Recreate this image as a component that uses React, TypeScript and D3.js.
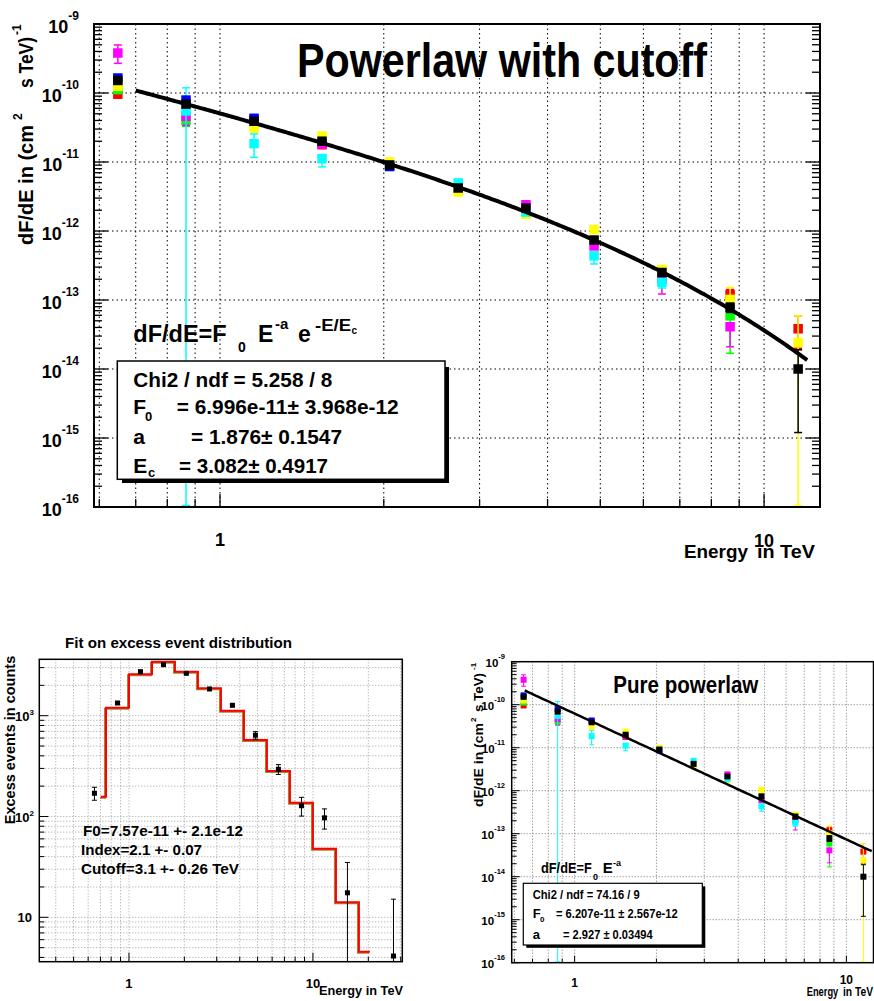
import React from 'react';
import * as d3 from 'd3';

const FONT = "'Liberation Sans', Arial, Helvetica, sans-serif";

// ---------------- spectral points (E in TeV, dF/dE) ----------------
const energies = [0.649, 0.866, 1.155, 1.54, 2.05, 2.74, 3.65, 4.87, 6.49, 8.66, 11.55];
const N = null;

const blackFlux = [1.52e-10, 6.9e-11, 3.9e-11, 2.0e-11, 9.06e-12, 4.2e-12, 2.15e-12, 7.4e-13, 2.5e-13, 7.8e-14, 1.0e-14];
const blackLo = [1.45e-10, 6.5e-11, 3.7e-11, 1.9e-11, 8.6e-12, 3.95e-12, 2.0e-12, 6.8e-13, 2.25e-13, 6.6e-14, 1.2e-15];
const blackHi = [1.6e-10, 7.3e-11, 4.1e-11, 2.1e-11, 9.5e-12, 4.45e-12, 2.3e-12, 8.0e-13, 2.75e-13, 9.0e-14, 1.9e-14];

const redFlux = [9.6e-11, N, N, 1.78e-11, N, N, N, N, N, 1.2e-13, 3.83e-14];
const redLo = [N, N, N, N, N, N, N, N, N, N, 2.0e-14];
const redHi = [N, N, N, N, N, N, N, N, N, 1.42e-13, 5.9e-14];

const greenFlux = [1.12e-10, 4.0e-11, N, N, N, N, N, N, 2.6e-13, 5.9e-14, N];
const greenLo = [N, 3.3e-11, N, N, N, N, N, N, N, 1.69e-14, N];
const greenHi = [N, N, N, N, N, N, N, N, N, N, N];

const yellowFlux = [1.25e-10, N, 3.1e-11, 2.38e-11, 1.0e-11, 3.67e-12, 1.74e-12, 1.05e-12, 2.77e-13, 1.02e-13, 2.42e-14];
const yellowLo = [N, N, N, N, N, N, N, N, N, N, 1.05e-16];
const yellowHi = [N, N, N, N, N, N, N, N, N, 1.52e-13, 5.9e-14];

const magentaFlux = [3.8e-10, 4.6e-11, 4.1e-11, 1.82e-11, N, N, 2.4e-12, 6.07e-13, 2.0e-13, 4.1e-14, N];
const magentaLo = [2.69e-10, 3.39e-11, N, N, N, N, N, N, 1.22e-13, 2.1e-14, N];
const magentaHi = [4.97e-10, N, N, N, N, N, N, N, N, N, N];

const cyanFlux = [N, 5.5e-11, 1.85e-11, 1.12e-11, 8.7e-12, 4.97e-12, 1.88e-12, 4.36e-13, 1.8e-13, N, N];
const cyanLo = [N, 1.05e-16, 1.17e-11, 8.5e-12, N, N, N, 3.33e-13, 1.49e-13, N, N];
const cyanHi = [N, 1.19e-10, 2.55e-11, N, N, N, N, N, N, N, N];

const blueFlux = [1.65e-10, 7.9e-11, 4.3e-11, N, 8.6e-12, N, N, N, N, N, N];
const blueLo = [N, N, N, N, N, N, N, N, N, N, N];
const blueHi = [N, N, N, N, N, N, N, N, N, N, N];

const spectra = [
  { color: '#ff0000', flux: redFlux, lo: redLo, hi: redHi },
  { color: '#00ff00', flux: greenFlux, lo: greenLo, hi: greenHi },
  { color: '#ffff00', flux: yellowFlux, lo: yellowLo, hi: yellowHi },
  { color: '#ff00ff', flux: magentaFlux, lo: magentaLo, hi: magentaHi },
  { color: '#00ffff', flux: cyanFlux, lo: cyanLo, hi: cyanHi },
  { color: '#0000ff', flux: blueFlux, lo: blueLo, hi: blueHi },
  { color: '#000000', flux: blackFlux, lo: blackLo, hi: blackHi },
];

// fit parameters
const cutoffF0 = 6.996e-11, cutoffIndex = 1.876, cutoffEc = 3.082;
const cutoffRange = [0.7, 12.0];
const plF0 = 6.207e-11, plIndex = 2.927;
const plRange = [0.655, 12.4];

// ---------------- excess counts ----------------
const countEnergies = [0.649, 0.866, 1.155, 1.54, 2.05, 2.74, 3.65, 4.87, 6.49, 8.66, 11.55, 15.4, 27.4];
const excessCounts = [170, 1337, 2736, 3206, 2633, 1842, 1268, 640, 294, 128, 97, 17.5, 4.13];
const excessErr = [25, 37, 52, 57, 51, 43, 36, 55, 33, 27, 22, 17.5, 11];
const fitEdges = [0.704, 0.75, 1.0, 1.334, 1.778, 2.371, 3.162, 4.217, 5.623, 7.499, 10.0, 13.34, 17.78, 20.4];
const fitCounts = [157, 1200, 2574, 3436, 2736, 1870, 1121, 574, 282, 137, 48, 14.1, 4.56];

// axis tick values
const specXTicks = [0.6, 0.7, 0.8, 0.9, 1, 2, 3, 4, 5, 6, 7, 8, 9, 10];
const specXGrid = [0.6, 0.7, 0.8, 0.9, 1, 2, 3, 4, 5, 6, 7, 8, 9, 10];
const specDecades = [-16, -15, -14, -13, -12, -11, -10, -9];
const countXTicks = [0.4, 0.5, 0.6, 0.7, 0.8, 0.9, 1, 2, 3, 4, 5, 6, 7, 8, 9, 10, 20, 30];
const countYTicks = [4, 5, 6, 7, 8, 9, 10, 20, 30, 40, 50, 60, 70, 80, 90, 100, 200, 300, 400, 500, 600, 700, 800, 900, 1000, 2000, 3000];

function decadeMinors(decs: number[]) {
  const out: number[] = [];
  for (let i = 0; i < decs.length - 1; i++) for (let m = 2; m <= 9; m++) out.push(m * Math.pow(10, decs[i]));
  return out;
}

function SpectrumPoints({ x, y, size, cap, lw }: any) {
  return (
    <g>
      {spectra.map((s, si) => (
        <g key={si}>
          {energies.map((e, i) => {
            const f = s.flux[i];
            if (f == null) return null;
            const lo = s.lo[i] ?? f;
            const hi = s.hi[i] ?? f;
            const cx = x(e), cy = y(f), yl = y(lo), yh = y(hi);
            return (
              <g key={i}>
                {(s.lo[i] != null || s.hi[i] != null) && (
                  <line x1={cx} x2={cx} y1={yl} y2={yh} stroke={s.color} strokeWidth={lw} />
                )}
                {s.lo[i] != null && <line x1={cx - cap} x2={cx + cap} y1={yl} y2={yl} stroke={s.color} strokeWidth={lw} />}
                {s.hi[i] != null && <line x1={cx - cap} x2={cx + cap} y1={yh} y2={yh} stroke={s.color} strokeWidth={lw} />}
                <rect x={cx - size / 2} y={cy - size / 2} width={size} height={size} fill={s.color} />
              </g>
            );
          })}
        </g>
      ))}
    </g>
  );
}

function SpecGridTicks({ x, y, gridColor, dash, majL, minL, botMaj, botMin, rightTicks, lw }: any) {
  const [xl, xr] = x.range();
  const [yb, yt] = y.range();
  const majors = specDecades.map((k) => Math.pow(10, k));
  const minors = decadeMinors(specDecades);
  return (
    <g>
      {majors.slice(1, -1).map((v, i) => (
        <line key={'gh' + i} x1={xl} x2={xr} y1={y(v)} y2={y(v)} stroke={gridColor} strokeWidth={1} strokeDasharray={dash} />
      ))}
      {specXGrid.map((v, i) => (
        <line key={'gv' + i} x1={x(v)} x2={x(v)} y1={yt} y2={yb} stroke={gridColor} strokeWidth={1} strokeDasharray={dash} />
      ))}
      {majors.map((v, i) => (
        <line key={'lm' + i} x1={xl} x2={xl + majL} y1={y(v)} y2={y(v)} stroke="#000" strokeWidth={lw} />
      ))}
      {minors.map((v, i) => (
        <line key={'ln' + i} x1={xl} x2={xl + minL} y1={y(v)} y2={y(v)} stroke="#000" strokeWidth={lw} />
      ))}
      {rightTicks && majors.map((v, i) => (
        <line key={'rm' + i} x1={xr} x2={xr - majL} y1={y(v)} y2={y(v)} stroke="#000" strokeWidth={lw} />
      ))}
      {rightTicks && minors.map((v, i) => (
        <line key={'rn' + i} x1={xr} x2={xr - minL} y1={y(v)} y2={y(v)} stroke="#000" strokeWidth={lw} />
      ))}
      {specXTicks.map((v, i) => (
        <line key={'bt' + i} x1={x(v)} x2={x(v)} y1={yb} y2={yb - (v === 1 || v === 10 ? botMaj : botMin)} stroke="#000" strokeWidth={lw} />
      ))}
    </g>
  );
}

function TopPanel() {
  const x = d3.scaleLog().domain([0.5867, 12.67]).range([94, 820]);
  const y = d3.scaleLog().domain([1e-16, 1e-9]).range([507, 24]);
  const curvePts = d3.range(0, 301).map((i) => {
    const e = cutoffRange[0] * Math.pow(cutoffRange[1] / cutoffRange[0], i / 300);
    return [e, cutoffF0 * Math.pow(e, -cutoffIndex) * Math.exp(-e / cutoffEc)];
  });
  const line = d3.line<number[]>().x((d) => x(d[0])).y((d) => y(d[1]));
  return (
    <g>
      <defs>
        <clipPath id="clipTop"><rect x={94} y={24} width={726} height={483} /></clipPath>
      </defs>
      <SpecGridTicks x={x} y={y} gridColor="#000" dash="1.5 3" majL={14} minL={8} botMaj={13} botMin={8} rightTicks lw={1.3} />
      <g clipPath="url(#clipTop)">
        <SpectrumPoints x={x} y={y} size={9.5} cap={4} lw={1.5} />
        <path d={line(curvePts as any) || ''} fill="none" stroke="#000" strokeWidth={4} />
      </g>
      <rect x={94} y={24} width={726} height={483} fill="none" stroke="#000" strokeWidth={2} />
      {/* y tick labels */}
      {specDecades.map((k) => (
        <text key={k} x={79} y={y(Math.pow(10, k)) + 8.5} fontSize={18} textAnchor="end">
          10<tspan dy={-12.5} fontSize={12}>{k}</tspan>
        </text>
      ))}
      {/* y title */}
      <g>
        <text transform="translate(33,245) rotate(-90)" fontSize={20} textLength={120} lengthAdjust="spacingAndGlyphs">dF/dE in (cm</text>
        <text transform="translate(22,120) rotate(-90)" fontSize={12}>2</text>
        <text transform="translate(33,88) rotate(-90)" fontSize={20} textLength={51} lengthAdjust="spacingAndGlyphs">s TeV)</text>
        <text transform="translate(21,35) rotate(-90)" fontSize={12}>-1</text>
      </g>
      {/* x labels */}
      <text x={x(1)} y={546} fontSize={18} textAnchor="middle">1</text>
      <text x={x(10)} y={547} fontSize={18} textAnchor="middle">10</text>
      <text x={684} y={558} fontSize={19} textLength={64} lengthAdjust="spacingAndGlyphs">Energy</text>
      <text x={757} y={558} fontSize={19} textLength={58} lengthAdjust="spacingAndGlyphs">in TeV</text>
      {/* title */}
      <text x={297} y={77} fontSize={49} textLength={410} lengthAdjust="spacingAndGlyphs">Powerlaw with cutoff</text>
      {/* formula */}
      <text x={133.3} y={341.7} fontSize={23} textLength={93.4} lengthAdjust="spacingAndGlyphs">dF/dE=F</text>
      <text x={238} y={351.7} fontSize={14}>0</text>
      <text x={258} y={341.7} fontSize={23}>E</text>
      <text x={275} y={329} fontSize={15}>-a</text>
      <text x={298} y={341.7} fontSize={23}>e</text>
      <text x={315} y={331} fontSize={16} textLength={36} lengthAdjust="spacingAndGlyphs">-E/E</text>
      <text x={351.5} y={334} fontSize={10}>c</text>
      {/* stats box */}
      <rect x={122} y={367} width={327} height={116} fill="#000" />
      <rect x={117.3} y={361} width={327.7} height={118.3} fill="#fff" stroke="#000" strokeWidth={1.5} />
      <text x={133.3} y={387.3} fontSize={21} textLength={199} lengthAdjust="spacingAndGlyphs">Chi2 / ndf = 5.258 / 8</text>
      <text x={133.3} y={414} fontSize={21}>F</text>
      <text x={145} y={421} fontSize={13}>0</text>
      <text x={176.7} y={414} fontSize={21} textLength={222} lengthAdjust="spacingAndGlyphs">= 6.996e-11± 3.968e-12</text>
      <text x={133.3} y={444} fontSize={21}>a</text>
      <text x={191} y={444} fontSize={21} textLength={151} lengthAdjust="spacingAndGlyphs">= 1.876± 0.1547</text>
      <text x={133.3} y={472.7} fontSize={21}>E</text>
      <text x={148} y={477} fontSize={13}>c</text>
      <text x={179} y={472.7} fontSize={21} textLength={149} lengthAdjust="spacingAndGlyphs">= 3.082± 0.4917</text>
    </g>
  );
}

function CountsPanel() {
  const x = d3.scaleLog().domain([0.3255, 30.6]).range([39.3, 402.3]);
  const y = d3.scaleLog().domain([3.627, 3627]).range([961.7, 659.3]);
  const [xl, xr] = x.range();
  const [yb, yt] = y.range();
  const stepPts: number[][] = [];
  fitCounts.forEach((c, i) => {
    stepPts.push([fitEdges[i], c]);
    stepPts.push([fitEdges[i + 1], c]);
  });
  const line = d3.line<number[]>().x((d) => x(d[0])).y((d) => y(d[1]));
  const stepD = line(stepPts) || '';
  const majY = [10, 100, 1000];
  return (
    <g>
      <defs>
        <clipPath id="clipBL"><rect x={xl} y={yt} width={xr - xl} height={yb - yt} /></clipPath>
      </defs>
      {countYTicks.map((v, i) => (
        <line key={'gh' + i} x1={xl} x2={xr} y1={y(v)} y2={y(v)} stroke="#888" strokeWidth={0.8} strokeDasharray="1 2" />
      ))}
      {countXTicks.map((v, i) => (
        <line key={'gv' + i} x1={x(v)} x2={x(v)} y1={yt} y2={yb} stroke="#888" strokeWidth={0.8} strokeDasharray="1 2" />
      ))}
      {countYTicks.map((v, i) => (
        <line key={'lt' + i} x1={xl} x2={xl + (majY.includes(v) ? 9 : 5)} y1={y(v)} y2={y(v)} stroke="#000" strokeWidth={1} />
      ))}
      {countXTicks.map((v, i) => (
        <line key={'bt' + i} x1={x(v)} x2={x(v)} y1={yb} y2={yb - (v === 1 || v === 10 ? 9 : 5)} stroke="#000" strokeWidth={1} />
      ))}
      <g clipPath="url(#clipBL)">
        <path d={stepD} fill="none" stroke="#9a8a3a" strokeWidth={2} transform="translate(-1,1)" />
        <path d={stepD} fill="none" stroke="#ff0000" strokeWidth={2} />
        {countEnergies.map((e, i) => {
          const c = excessCounts[i];
          const err = excessErr[i];
          const lo = Math.max(c - err, 1);
          const cx = x(e);
          return (
            <g key={i}>
              <line x1={cx} x2={cx} y1={y(lo)} y2={y(c + err)} stroke="#000" strokeWidth={1} />
              <line x1={cx - 2.5} x2={cx + 2.5} y1={y(c + err)} y2={y(c + err)} stroke="#000" strokeWidth={1} />
              <line x1={cx - 2.5} x2={cx + 2.5} y1={y(lo)} y2={y(lo)} stroke="#000" strokeWidth={1} />
              <rect x={cx - 2.5} y={y(c) - 2.5} width={5} height={5} fill="#000" />
            </g>
          );
        })}
      </g>
      <rect x={xl} y={yt} width={xr - xl} height={yb - yt} fill="none" stroke="#000" strokeWidth={1.5} />
      <text x={34} y={y(1000) + 5} fontSize={13} textAnchor="end">10<tspan dy={-6} fontSize={8}>3</tspan></text>
      <text x={34} y={y(100) + 5} fontSize={13} textAnchor="end">10<tspan dy={-6} fontSize={8}>2</tspan></text>
      <text x={32} y={y(10) + 5} fontSize={13} textAnchor="end">10</text>
      <text x={x(1)} y={988} fontSize={13} textAnchor="middle">1</text>
      <text x={x(10)} y={988} fontSize={13} textAnchor="middle">10</text>
      <text x={319} y={995} fontSize={13} textLength={84} lengthAdjust="spacingAndGlyphs">Energy in TeV</text>
      <text x={65} y={648} fontSize={15} textLength={227} lengthAdjust="spacingAndGlyphs">Fit on excess event distribution</text>
      <text transform="translate(15,740) rotate(-90)" fontSize={14.5} textAnchor="middle">Excess events in counts</text>
      <text x={83} y={836} fontSize={15} textLength={160} lengthAdjust="spacingAndGlyphs">F0=7.57e-11 +- 2.1e-12</text>
      <text x={81} y={855} fontSize={15} textLength={121} lengthAdjust="spacingAndGlyphs">Index=2.1 +- 0.07</text>
      <text x={81} y={874} fontSize={15} textLength={158} lengthAdjust="spacingAndGlyphs">Cutoff=3.1 +- 0.26 TeV</text>
    </g>
  );
}

function PowerlawPanel() {
  const x = d3.scaleLog().domain([0.5867, 12.67]).range([511.7, 874.3]);
  const y = d3.scaleLog().domain([1e-16, 1e-9]).range([962.7, 661.7]);
  const curvePts = d3.range(0, 101).map((i) => {
    const e = plRange[0] * Math.pow(plRange[1] / plRange[0], i / 100);
    return [e, plF0 * Math.pow(e, -plIndex)];
  });
  const line = d3.line<number[]>().x((d) => x(d[0])).y((d) => y(d[1]));
  return (
    <g>
      <defs>
        <clipPath id="clipBR"><rect x={511.7} y={661.7} width={362.6} height={301} /></clipPath>
      </defs>
      <SpecGridTicks x={x} y={y} gridColor="#777" dash="1 2" majL={8} minL={5} botMaj={7} botMin={4} rightTicks={false} lw={1} />
      <g clipPath="url(#clipBR)">
        <SpectrumPoints x={x} y={y} size={6} cap={2.5} lw={1} />
        <path d={line(curvePts as any) || ''} fill="none" stroke="#000" strokeWidth={2.5} />
      </g>
      <rect x={511.7} y={661.7} width={361.8} height={301} fill="none" stroke="#000" strokeWidth={1.5} />
      {specDecades.map((k) => (
        <text key={k} x={505} y={y(Math.pow(10, k)) + 5} fontSize={11.5} textAnchor="end">
          10<tspan dy={-8} fontSize={7.5}>{k}</tspan>
        </text>
      ))}
      <text transform="translate(483,807) rotate(-90)" fontSize={13} textLength={84} lengthAdjust="spacingAndGlyphs">dF/dE in (cm</text>
      <text transform="translate(476,722) rotate(-90)" fontSize={8}>2</text>
      <text transform="translate(483,712) rotate(-90)" fontSize={13} textLength={39} lengthAdjust="spacingAndGlyphs">s TeV)</text>
      <text transform="translate(476,670) rotate(-90)" fontSize={8}>-1</text>
      <text x={x(1)} y={987} fontSize={12} textAnchor="middle">1</text>
      <text x={x(10)} y={984} fontSize={12} textAnchor="middle">10</text>
      <text x={806.7} y={996} fontSize={12} textLength={31.6} lengthAdjust="spacingAndGlyphs">Energy</text>
      <text x={843} y={996} fontSize={12} textLength={30} lengthAdjust="spacingAndGlyphs">in TeV</text>
      <text x={613.3} y={693.3} fontSize={23} textLength={145} lengthAdjust="spacingAndGlyphs">Pure powerlaw</text>
      <text x={541} y={873} fontSize={15} textLength={50.7} lengthAdjust="spacingAndGlyphs">dF/dE=F</text>
      <text x={593} y={880} fontSize={9}>0</text>
      <text x={602.7} y={873} fontSize={15}>E</text>
      <text x={613} y={866} fontSize={9}>-a</text>
      <rect x={526.3} y={886.3} width={179} height={61.5} fill="#000" />
      <rect x={523.3} y={883.3} width={179} height={61.7} fill="#fff" stroke="#000" strokeWidth={1.2} />
      <text x={532.7} y={899.3} fontSize={13} textLength={107} lengthAdjust="spacingAndGlyphs">Chi2 / ndf = 74.16 / 9</text>
      <text x={532.7} y={918.3} fontSize={13}>F</text>
      <text x={540} y={922} fontSize={8}>0</text>
      <text x={556} y={918.3} fontSize={13} textLength={121.7} lengthAdjust="spacingAndGlyphs">= 6.207e-11 ± 2.567e-12</text>
      <text x={532.7} y={939} fontSize={13}>a</text>
      <text x={563} y={939} fontSize={13} textLength={89.7} lengthAdjust="spacingAndGlyphs">= 2.927 ± 0.03494</text>
    </g>
  );
}

export default function App() {
  return (
    <svg
      width={874}
      height={1001}
      style={{ position: 'absolute', left: 0, top: 0, background: '#fff' }}
      fontFamily={FONT}
      fontWeight="bold"
    >
      <TopPanel />
      <CountsPanel />
      <PowerlawPanel />
    </svg>
  );
}
